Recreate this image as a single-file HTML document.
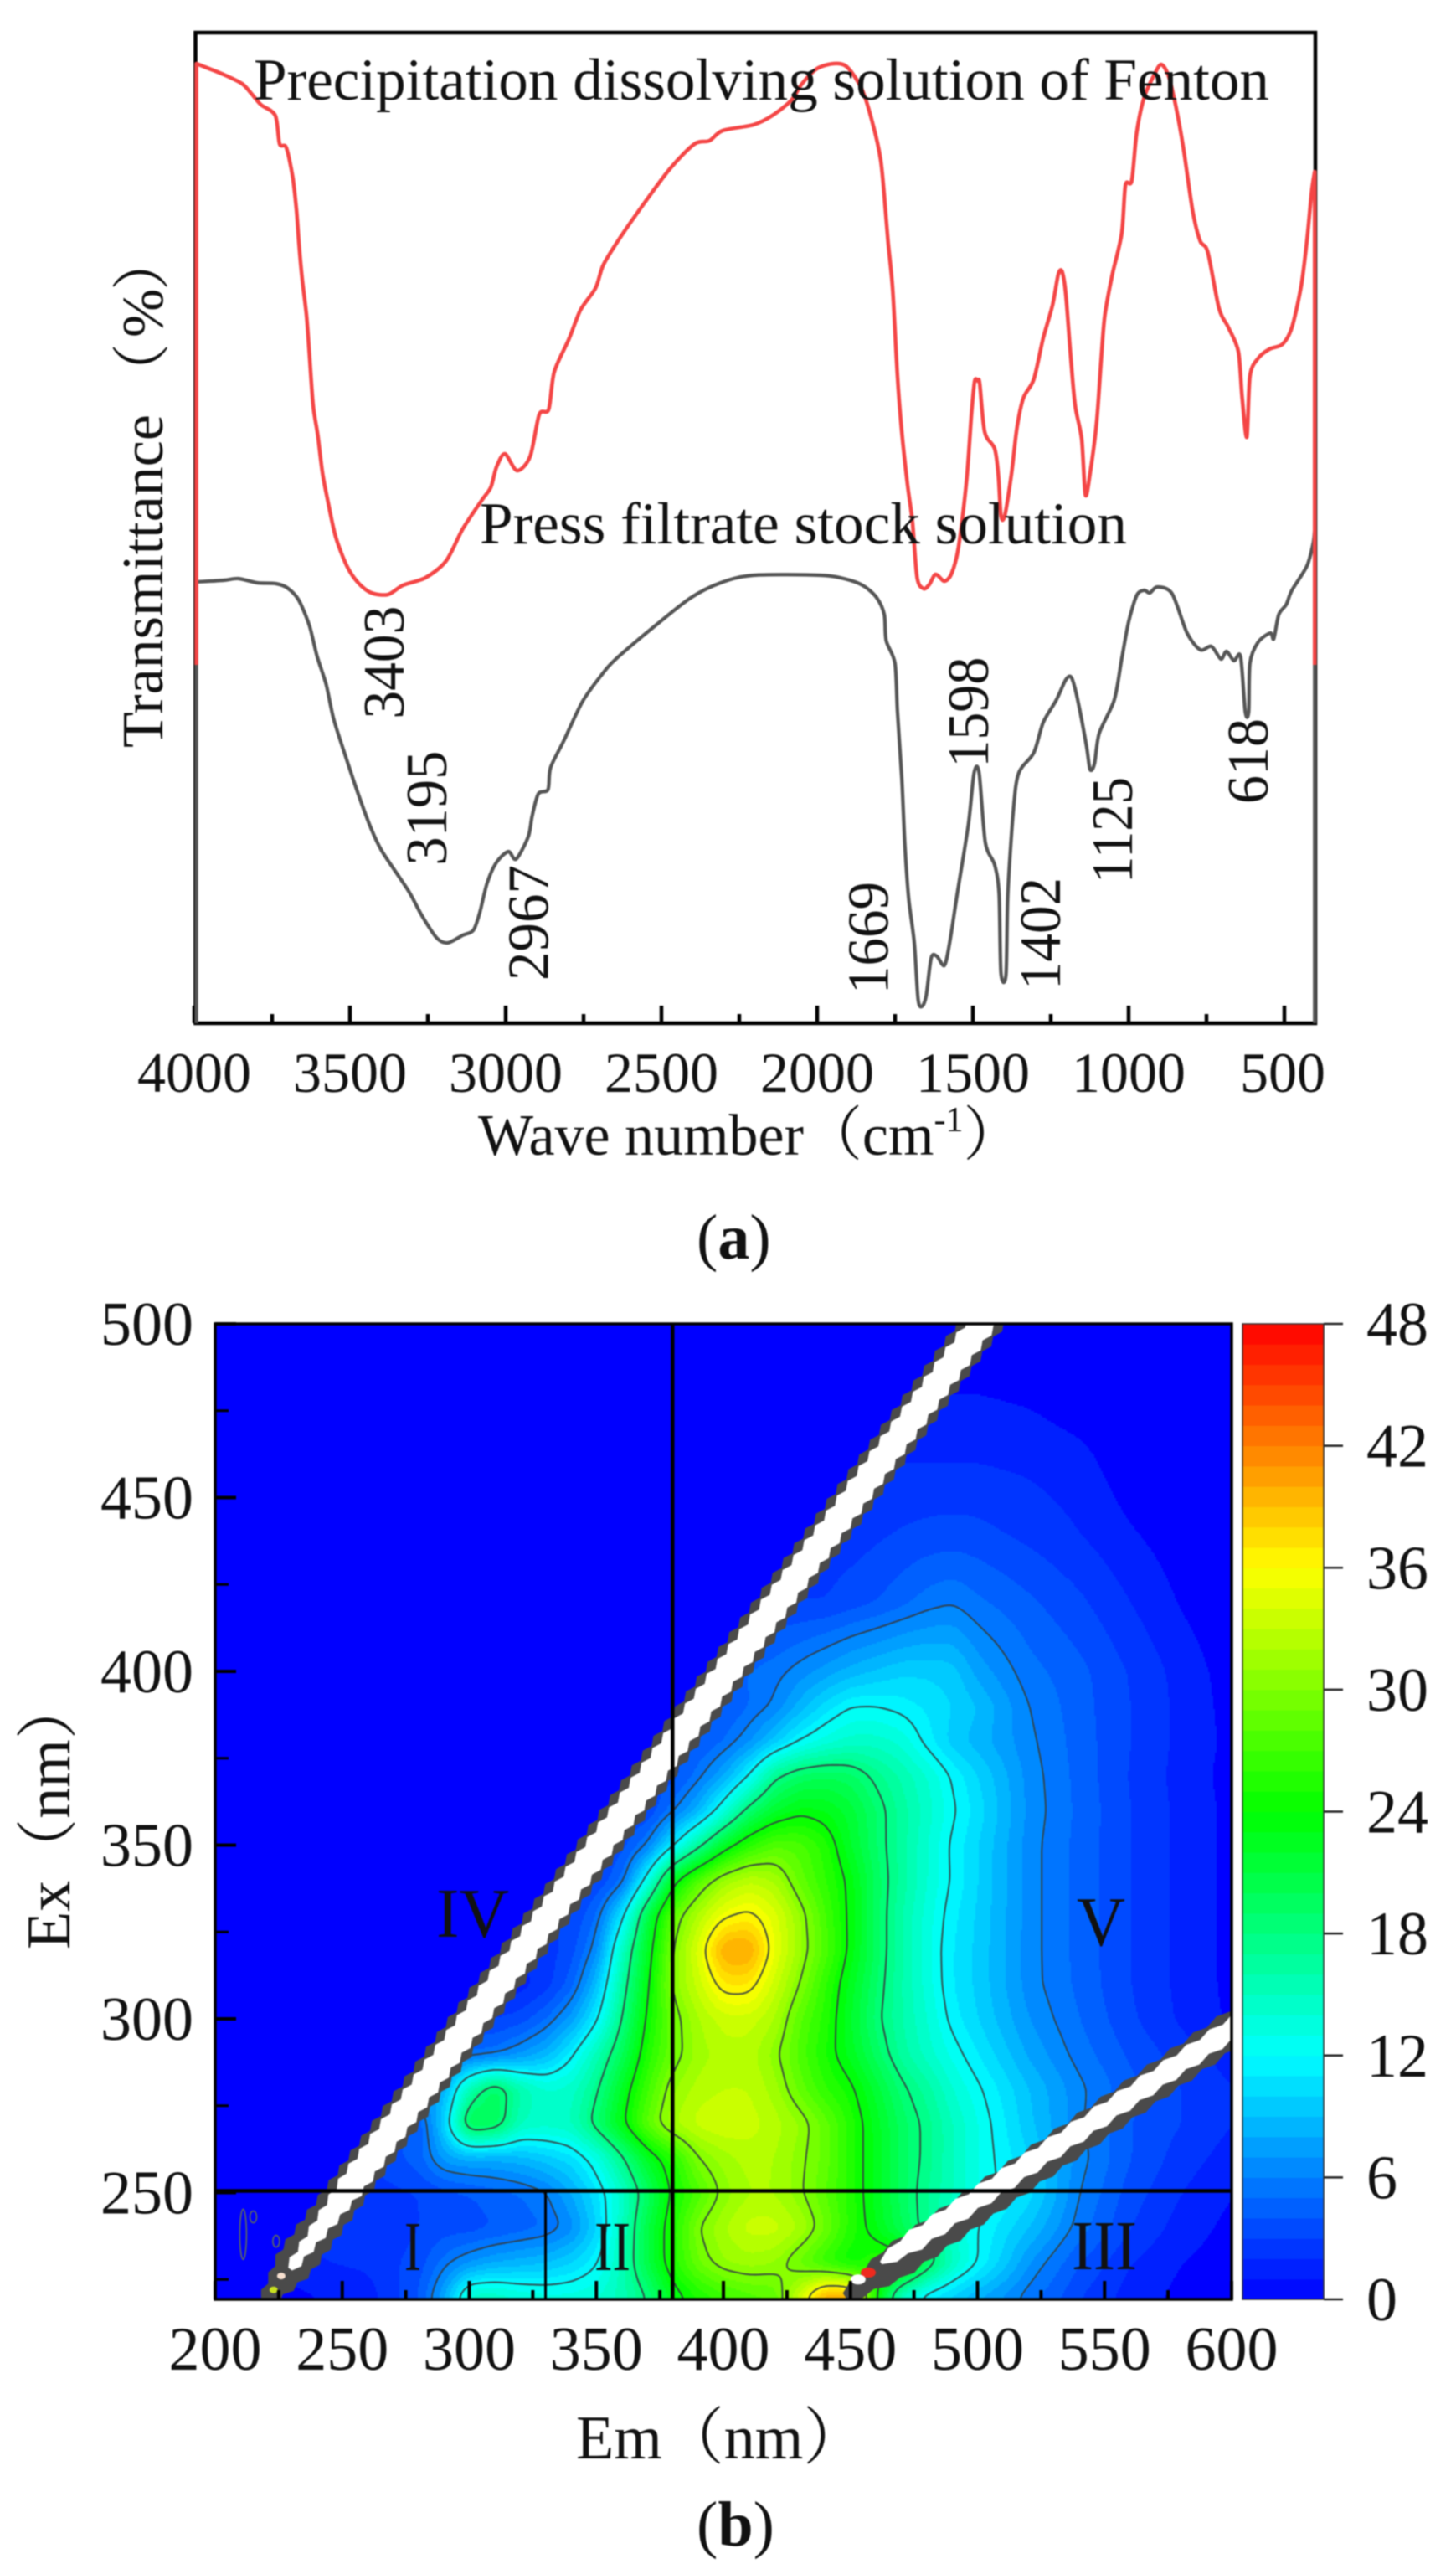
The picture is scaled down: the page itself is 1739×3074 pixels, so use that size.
<!DOCTYPE html>
<html lang="en">
<head>
<meta charset="utf-8">
<title>FTIR spectra and EEM fluorescence map</title>
<style>
html,body{margin:0;padding:0;background:#fff;}
#figure{display:block;filter:blur(0.7px);}
text{font-family:"Liberation Serif","Noto Serif CJK SC",serif;fill:#111;}
</style>
</head>
<body>
<svg id="figure" xmlns="http://www.w3.org/2000/svg" width="1739" height="3074" viewBox="0 0 1739 3074">
  <defs>
    <clipPath id="plot-b-clip"><rect x="257" y="1581" width="1214" height="1165"/></clipPath>
  </defs>
  <rect x="0" y="0" width="1739" height="3074" fill="#fff"/>

  <!-- Panel (a) -->
  <g id="panel-a">
    <rect x="233.5" y="39" width="1337.5" height="1183" fill="none" stroke="#000" stroke-width="4.5"/>
    <g id="a-ticks"></g>
    <g id="a-tick-labels"></g>
    <path id="grey-line" fill="none" stroke="#555" stroke-width="4.2" stroke-linejoin="round"/>
    <path id="red-line" fill="none" stroke="#f44545" stroke-width="4.5" stroke-linejoin="round"/>

    <text x="303" y="119" font-size="71" textLength="1213" lengthAdjust="spacingAndGlyphs">Precipitation dissolving solution of Fenton</text>
    <text x="573" y="649" font-size="71" textLength="773" lengthAdjust="spacingAndGlyphs">Press filtrate stock solution</text>

    <text transform="translate(482,858.6) rotate(-90)" font-size="70" textLength="135" lengthAdjust="spacingAndGlyphs">3403</text>
    <text transform="translate(533,1033.6) rotate(-90)" font-size="70" textLength="137" lengthAdjust="spacingAndGlyphs">3195</text>
    <text transform="translate(654.5,1171) rotate(-90)" font-size="70" textLength="138" lengthAdjust="spacingAndGlyphs">2967</text>
    <text transform="translate(1060.7,1187) rotate(-90)" font-size="70" textLength="134" lengthAdjust="spacingAndGlyphs">1669</text>
    <text transform="translate(1180,916.6) rotate(-90)" font-size="70" textLength="132" lengthAdjust="spacingAndGlyphs">1598</text>
    <text transform="translate(1266,1182) rotate(-90)" font-size="70" textLength="134" lengthAdjust="spacingAndGlyphs">1402</text>
    <text transform="translate(1352,1055) rotate(-90)" font-size="70" textLength="127" lengthAdjust="spacingAndGlyphs">1125</text>
    <text transform="translate(1514,960) rotate(-90)" font-size="70" textLength="102" lengthAdjust="spacingAndGlyphs">618</text>

    <text transform="translate(194,893) rotate(-90)" font-size="70">Transmittance<tspan x="413">（</tspan><tspan x="490">%</tspan><tspan x="546">）</tspan></text>
    <text x="571" y="1379" font-size="70">Wave number（cm<tspan font-size="42" dy="-28">-1</tspan><tspan dy="28">）</tspan></text>
    <text x="832" y="1503" font-size="76">(<tspan font-weight="bold">a</tspan>)</text>
  </g>

  <!-- Panel (b) -->
  <g id="panel-b">
    <rect x="257" y="1581" width="1214" height="1165" fill="#0000ff"/>
    <g clip-path="url(#plot-b-clip)">
      <g id="heat-levels" shape-rendering="crispEdges"></g>
      <path id="contours" fill="none" stroke="#333e42" stroke-opacity="0.85" stroke-width="2.1"/>
      <g id="bands"></g>
      <g id="specks"></g>
    </g>
    <g id="b-ticks"></g>
    <g id="b-dividers"></g>
    <rect x="257" y="1581" width="1214" height="1165" fill="none" stroke="#000" stroke-width="3.5"/>
    <g id="b-tick-labels"></g>
    <g id="colorbar"></g>
    <g id="colorbar-ticks"></g>

    <text x="483" y="2711" font-size="84" textLength="20" lengthAdjust="spacingAndGlyphs">I</text>
    <text x="710" y="2711" font-size="84" textLength="43" lengthAdjust="spacingAndGlyphs">II</text>
    <text x="1280" y="2710" font-size="84" textLength="78" lengthAdjust="spacingAndGlyphs">III</text>
    <text x="521" y="2313" font-size="84" textLength="87" lengthAdjust="spacingAndGlyphs">IV</text>
    <text x="1286" y="2323" font-size="84" textLength="58" lengthAdjust="spacingAndGlyphs">V</text>

    <text transform="translate(83,2328) rotate(-90)" font-size="74">Ex（nm）</text>
    <text x="688" y="2936" font-size="74">Em（nm）</text>
    <text x="832" y="3040" font-size="76">(<tspan font-weight="bold">b</tspan>)</text>
  </g>
</svg>

<script>
/* ---------- Panel (a) data: FTIR spectra ---------- */
const aMajorTicks = [4000, 3500, 3000, 2500, 2000, 1500, 1000, 500];
const aMinorTicks = [3750, 3250, 2750, 2250, 1750, 1250, 750];
const aTickLabels = ['4000', '3500', '3000', '2500', '2000', '1500', '1000', '500'];

const redWave = [3993,3993,3966,3906,3847,3817,3787,3741,3727,3706,3685,3673,3665,3655,3641,3632,3620,3605,3590,3572,3548,3512,3476,3434,3381,3333,3261,3195,3142,3082,3052,3034,3007,2968,2926,2897,2867,2849,2801,2765,2717,2693,2646,2562,2478,2401,2353,2311,2212,2152,2092,2057,2009,1955,1913,1865,1830,1806,1794,1782,1767,1752,1738,1720,1704,1689,1668,1650,1630,1602,1579,1557,1531,1515,1505,1495,1489,1473,1441,1429,1421,1409,1387,1370,1349,1316,1286,1256,1238,1226,1214,1199,1184,1163,1151,1136,1115,1101,1089,1065,1035,1023,1003,987,963,933,909,885,862,838,808,784,760,724,694,662,650,635,625,599,563,521,491,461,443,428,418,418];
const redT = [428,1146,1142,1133,1122,1110,1097,1084,1050,1046,1010,970,930,889,845,800,738,702,657,622,581,546,526,514,512,523,532,552,590,624,640,664,680,660,677,727,733,778,818,852,878,905,934,979,1021,1050,1054,1066,1073,1084,1102,1122,1140,1146,1142,1115,1073,1032,988,934,876,773,706,644,599,532,519,524,536,528,537,568,648,729,767,767,764,706,686,653,606,606,657,711,747,769,818,858,894,898,872,800,738,698,631,657,718,791,845,894,943,1001,1006,1064,1106,1131,1145,1131,1095,1046,970,934,921,854,831,802,747,700,773,794,805,811,831,881,934,992,1017,428];

const greyWave = [3993,3993,3906,3859,3799,3739,3703,3667,3632,3608,3578,3554,3512,3476,3434,3399,3315,3273,3225,3190,3142,3108,3088,3064,3034,2996,2971,2932,2920,2900,2869,2861,2819,2759,2700,2652,2532,2413,2317,2212,1997,1913,1859,1818,1794,1788,1760,1752,1738,1728,1716,1698,1686,1674,1660,1644,1626,1602,1585,1561,1525,1507,1491,1471,1441,1427,1421,1405,1399,1381,1364,1316,1286,1244,1214,1196,1178,1148,1136,1122,1107,1059,1035,1013,987,963,945,921,874,826,784,748,718,700,676,655,640,629,625,599,560,549,533,509,491,443,423,418,418];
const greyT = [0,527,529,531,526,525,520,506,475,439,404,363,314,274,232,205,158,129,102,96,105,111,131,167,192,205,196,223,247,274,279,305,337,384,415,435,473,508,526,535,535,530,522,508,488,457,430,372,292,212,149,96,29,20,33,78,80,69,96,154,238,299,299,216,189,154,60,58,154,256,299,323,359,386,410,413,390,332,303,310,346,386,435,479,511,517,514,521,513,466,446,450,435,444,433,438,372,372,430,455,466,459,488,500,517,546,573,590,0];

/* ---------- Panel (b) data: excitation-emission intensity grid ---------- */
const emAxis = [200,220,240,260,280,290,300,310,320,330,340,350,360,370,380,390,400,410,420,430,440,450,460,470,480,490,500,520,540,560,580,600];
const exAxis = [220,230,240,250,260,270,280,290,300,310,320,330,340,350,360,370,380,390,400,420,440,460,480,500];
const intensity = [
/*220*/[0,0,1,1.5,4,8,15,15,14,13.5,13.5,14,15.5,18,23,25,26.5,27.5,28,34,41,41,24,14,11,9.5,8,5.5,3,1.5,0.7,0.2],
/*230*/[0,2,2,2.2,3.5,5.5,7,8,8.5,9,10,11.7,15.5,21,25.5,29,31,31.5,31,28.5,26,24,26,26,20,15,12,7,4,2,1,0.5],
/*240*/[0,0,2,2,3,3.5,3.5,4,4.5,5,6.5,10,15,21,25.5,30,32,33.5,33.5,32,29,25.5,23,20,17,14,12,9,5.5,3,1.5,0.7],
/*250*/[0,0,2.5,2.5,3,3.5,4,4.5,5,5.8,8,10.7,14.5,19.5,24.5,27.5,30.5,32,32,30.3,28,25.5,22.5,19.5,17,15,13,10.5,6,3.5,2,1],
/*260*/[0,0,0,3,4.5,7.5,8,8,8.5,9.5,10.5,13,17.5,22.5,25.5,30,31.5,32.5,32,30.5,28.5,25.5,22.5,19.5,17.5,15,13,10,6.5,4,2.5,1.5],
/*270*/[0,0,0,4,4,10,21,20,15,14.5,15,19,23.5,28.5,32,33.5,34,33.5,32.5,31,28.5,25.5,22.5,19.5,17.5,15,13,9.3,6.2,4,3,2],
/*280*/[0,0,0,0,8,8,16,20,16,14,14.5,17.5,22.5,27,31,32.5,33,33,31.5,28.5,26,24.5,21.5,18.5,16.5,14,12.3,9,6.3,4.3,3,2],
/*290*/[0,0,0,0,5,5,5,5.5,7,8.5,11.5,15.5,20,25.5,29,31.5,32.5,32.5,30.5,27.5,25,22.5,19.5,16.5,14.5,12.7,11,7.8,5.5,3.8,2.5,1.5],
/*300*/[0,0,0,0,0,3,3,3,3.5,5,7.5,11.5,18,24.5,29,32,33.5,33.5,32,28,25.5,22,18.5,16,14,11.5,10,7,5,3.2,1.8,0.8],
/*310*/[0,0,0,0,0,0,1.5,1.5,1.5,2.5,4.5,9,16.5,23.5,30.5,33.5,37,37,33.5,30,26,22.5,19,16,13.5,11,9.7,6.5,4.7,3,1.7,0.7],
/*320*/[0,0,0,0,0,0,0,2.5,2.5,2.5,3.5,6.5,15,22.5,30,34.5,40.5,40.5,35,31.3,27.5,23.5,19.5,16,13.3,11,9.7,6.5,4.6,3,1.7,0.7],
/*330*/[0,0,0,0,0,0,0,0,3,3,3,5,11,21,28.5,32.5,35.5,36.5,34.5,31,27,23.5,19.5,16,13.5,11.3,9.8,6.5,4.6,3,1.7,0.7],
/*340*/[0,0,0,0,0,0,0,0,0,3,3,3,5,13,23,28,31.5,33,32,28.5,26,23.5,19.5,16.5,14,11.8,10,6.5,4.6,3,1.7,0.7],
/*350*/[0,0,0,0,0,0,0,0,0,0,3.5,3.5,3.5,6,11.5,17,22.5,26,28,27.5,25.5,22,19,16.5,14,11.7,10,6.5,4.6,3,1.7,0.7],
/*360*/[0,0,0,0,0,0,0,0,0,0,0,3,3,3,5.7,8.5,13.5,19,22,23.5,23,21.5,19,16.5,14.5,12.3,10.5,6.7,4.7,3,1.7,0.7],
/*370*/[0,0,0,0,0,0,0,0,0,0,0,0,3.5,3.5,3.5,5.5,8,12,17.5,19.5,20,19.5,17.5,15.8,14,11.8,10,6.6,4.6,2.9,1.6,0.6],
/*380*/[0,0,0,0,0,0,0,0,0,0,0,0,0,4,4,4,5,6.8,9.5,12,13.5,14.5,14.5,13.7,11.5,9.5,8.5,6.3,4.5,3,1.7,0.7],
/*390*/[0,0,0,0,0,0,0,0,0,0,0,0,0,0,4,4,4,5,6.2,8.5,10.5,12,12,11.5,10.8,10,9,6,4.4,3,1.7,0.6],
/*400*/[0,0,0,0,0,0,0,0,0,0,0,0,0,0,0,5,5,5,5.5,6.5,7.5,8.5,9.2,9.8,9.8,9.5,7.6,5.4,4.3,2.9,1.6,0.5],
/*420*/[0,0,0,0,0,0,0,0,0,0,0,0,0,0,0,0,0,3,3,3,3,3.5,4,4.7,5.5,5.9,5.2,4.2,3.2,2,0.9,0.2],
/*440*/[0,0,0,0,0,0,0,0,0,0,0,0,0,0,0,0,0,0,0,2.4,2.5,2.5,2.8,3.1,3.3,3.4,3.3,2.7,2,1.1,0.4,0],
/*460*/[0,0,0,0,0,0,0,0,0,0,0,0,0,0,0,0,0,0,0,0,0,2,2,2,2,2,2,1.8,1.4,0.3,0,0],
/*480*/[0,0,0,0,0,0,0,0,0,0,0,0,0,0,0,0,0,0,0,0,0,0,0,1,1,1,1,0.8,0.3,0,0,0],
/*500*/[0,0,0,0,0,0,0,0,0,0,0,0,0,0,0,0,0,0,0,0,0,0,0,0,0,0,0,0,0,0,0,0]
];
const contourLevels = [6, 12, 18, 24, 30, 36];

const emMajorTicks = [200, 250, 300, 350, 400, 450, 500, 550, 600];
const emMinorTicks = [225, 275, 325, 375, 425, 475, 525, 575];
const exMajorTicks = [500, 450, 400, 350, 300, 250];
const exMinorTicks = [475, 425, 375, 325, 275, 225];
const emTickLabels = ['200', '250', '300', '350', '400', '450', '500', '550', '600'];
const exTickLabels = ['500', '450', '400', '350', '300', '250'];
const colorbarTicks = [0, 6, 12, 18, 24, 30, 36, 42, 48];
const colorbarLabels = ['0', '6', '12', '18', '24', '30', '36', '42', '48'];

/* scatter bands: [start, end] in nm */
const rayleighEm = [219.5, 505];
const rayleighEx = [218, 503.5];
const rayleighCoreEm = [229.5, 505];
const rayleighCoreEx = [228, 503.5];
const secondOrderEm = [448, 612];
const secondOrderEx = [220, 303];
const secondOrderCoreEm = [462, 612];
const secondOrderCoreEx = [229.8, 303];

/* dividing lines of the five regions, in nm */
const dividerEm = 380;
const dividerEx = 250;
const dividerEmLow = 330;

/* small artefacts near the band ends */
const hotEm = [457, 453, 223, 226];
const hotEx = [227, 225, 222, 226];
const hotColor = ['#ee2a1e', '#ffffff', '#c8e020', '#f7e0d0'];
const speckEm = [215, 224, 211];
const speckEx = [243, 236, 238];

/* ---------- helpers ---------- */
const SVGNS = 'http://www.w3.org/2000/svg';
function mk(tag, parent) {
  const el = document.createElementNS(SVGNS, tag);
  parent.appendChild(el);
  return el;
}
function byId(id) { return document.getElementById(id); }

/* ---------- Panel (a) axes ---------- */
const aLeft = 232, aBottom = 1222, aScale = 0.372;
function xA(w) { return aLeft + (4000 - w) * aScale; }
function yA(t) { return aBottom - t; }
/* wavenumber read-off correction for the traced spectra */
function xSpec(w) { return xA(4000 - (4000 - w) * 1.0043); }

/* straight instrument-edge segments at both ends, smooth spline in between */
function linePath(xs, ys) {
  const px = xs.map(xSpec), py = ys.map(yA);
  const n = px.length;
  let d = 'M' + px[0].toFixed(1) + ' ' + py[0].toFixed(1) + 'L' + px[1].toFixed(1) + ' ' + py[1].toFixed(1);
  const k = 1 / 7;
  for (let i = 1; i < n - 2; i++) {
    const a = Math.max(1, i - 1), b = Math.min(n - 2, i + 2);
    const c1x = px[i] + (px[i + 1] - px[a]) * k, c1y = py[i] + (py[i + 1] - py[a]) * k;
    const c2x = px[i + 1] - (px[b] - px[i]) * k, c2y = py[i + 1] - (py[b] - py[i]) * k;
    d += 'C' + c1x.toFixed(1) + ' ' + c1y.toFixed(1) + ' ' + c2x.toFixed(1) + ' ' + c2y.toFixed(1) + ' ' + px[i + 1].toFixed(1) + ' ' + py[i + 1].toFixed(1);
  }
  d += 'L' + px[n - 1].toFixed(1) + ' ' + py[n - 1].toFixed(1);
  return d;
}
byId('red-line').setAttribute('d', linePath(redWave, redT));
byId('grey-line').setAttribute('d', linePath(greyWave, greyT));

aMajorTicks.forEach(function (w, i) {
  const t = mk('line', byId('a-ticks'));
  
  
  t.setAttribute('x1', xA(w)); t.setAttribute('x2', xA(w));
  t.setAttribute('y1', aBottom); t.setAttribute('y2', aBottom - 21);
  t.setAttribute('stroke', '#000'); t.setAttribute('stroke-width', '4.5');

  const lab = mk('text', byId('a-tick-labels'));
  
  
  lab.setAttribute('x', xA(w) - (w === 500 ? 2 : 0));
  lab.setAttribute('y', 1304);
  lab.setAttribute('text-anchor', 'middle');
  lab.setAttribute('font-size', '68');
  lab.setAttribute('fill', '#222');
  lab.textContent = aTickLabels[i];
});
aMinorTicks.forEach(function (w) {
  const t = mk('line', byId('a-ticks'));
  
  
  t.setAttribute('x1', xA(w)); t.setAttribute('x2', xA(w));
  t.setAttribute('y1', aBottom); t.setAttribute('y2', aBottom - 11);
  t.setAttribute('stroke', '#000'); t.setAttribute('stroke-width', '4.5');
});

/* ---------- Panel (b) axes ---------- */
const bLeft = 257, bTop = 1581, bRight = 1471, bBottom = 2746;
const emScale = 3.035, exScale = 4.15;
function xB(em) { return bLeft + (em - 200) * emScale; }
function yB(ex) { return bTop + (500 - ex) * exScale; }
function emOf(px) { return 200 + (px - bLeft) / emScale; }
function exOf(py) { return 500 - (py - bTop) / exScale; }

function colorOf(v) {
  const c = Math.max(0, Math.min(48, v));
  let r, g, b;
  if (c < 12) { r = 0; g = 255 * c / 12; b = 255; }
  else if (c < 24) { r = 0; g = 255; b = 255 * (24 - c) / 12; }
  else if (c < 36) { r = 255 * (c - 24) / 12; g = 255; b = 0; }
  else { r = 255; g = 255 * (48 - c) / 12; b = 0; }
  return 'rgb(' + Math.round(r) + ',' + Math.round(g) + ',' + Math.round(b) + ')';
}

function locate(axis, v) {
  let i = 0;
  while (i < axis.length - 2 && v > axis[i + 1]) i++;
  const f = (v - axis[i]) / (axis[i + 1] - axis[i]);
  return [i, Math.max(0, Math.min(1, f))];
}
function sampleGrid(em, ex) {
  const a = locate(emAxis, em), b = locate(exAxis, ex);
  const r0 = intensity[b[0]], r1 = intensity[b[0] + 1];
  const v0 = r0[a[0]] * (1 - a[1]) + r0[a[0] + 1] * a[1];
  const v1 = r1[a[0]] * (1 - a[1]) + r1[a[0] + 1] * a[1];
  return v0 * (1 - b[1]) + v1 * b[1];
}

/* fine field on a 2 px lattice */
const cell = 2;
const nx = Math.floor((bRight - bLeft) / cell) + 1;
const ny = Math.floor((bBottom - bTop) / cell) + 1;
let field = new Float32Array(nx * ny);
for (let j = 0; j < ny; j++) {
  const ex = exOf(bTop + j * cell);
  for (let i = 0; i < nx; i++) {
    field[j * nx + i] = sampleGrid(emOf(bLeft + i * cell), ex);
  }
}
function boxBlur(src, radius) {
  const tmp = new Float32Array(nx * ny), out = new Float32Array(nx * ny);
  const n = 2 * radius + 1;
  for (let j = 0; j < ny; j++) {
    let s = 0;
    for (let k = -radius; k <= radius; k++) s += src[j * nx + Math.max(0, Math.min(nx - 1, k))];
    for (let i = 0; i < nx; i++) {
      tmp[j * nx + i] = s / n;
      s += src[j * nx + Math.min(nx - 1, i + radius + 1)] - src[j * nx + Math.max(0, i - radius)];
    }
  }
  for (let i = 0; i < nx; i++) {
    let s = 0;
    for (let k = -radius; k <= radius; k++) s += tmp[Math.max(0, Math.min(ny - 1, k)) * nx + i];
    for (let j = 0; j < ny; j++) {
      out[j * nx + i] = s / n;
      s += tmp[Math.min(ny - 1, j + radius + 1) * nx + i] - tmp[Math.max(0, j - radius) * nx + i];
    }
  }
  return out;
}
field = boxBlur(boxBlur(boxBlur(field, 3), 3), 3);
/* nothing is measured on the short-wavelength side of the Rayleigh line */
for (let j = 0; j < ny; j++) {
  const ex = exOf(bTop + j * cell);
  for (let i = 0; i < nx; i++) {
    if (emOf(bLeft + i * cell) < ex + 1.5) field[j * nx + i] = 0;
  }
}

/* one filled path per colour level, built from runs of equal level */
const levelPaths = {};
for (let j = 0; j < ny; j++) {
  let i = 0;
  const y = bTop + j * cell;
  while (i < nx) {
    const lev = Math.min(47, Math.floor(field[j * nx + i]));
    let k = i + 1;
    while (k < nx && Math.min(47, Math.floor(field[j * nx + k])) === lev) k++;
    if (lev > 0) {
      levelPaths[lev] = (levelPaths[lev] || '') + 'M' + (bLeft + i * cell) + ' ' + y + 'h' + ((k - i) * cell) + 'v' + cell + 'h' + (-(k - i) * cell) + 'z';
    }
    i = k;
  }
}
Object.keys(levelPaths).forEach(function (lev) {
  const p = mk('path', byId('heat-levels'));
  
  
  p.setAttribute('d', levelPaths[lev]);
  p.setAttribute('fill', colorOf(+lev + 0.5));
});

/* contour lines by marching squares */
function contourPath(level) {
  let d = '';
  function cross(a, b) { return (level - a) / (b - a); }
  for (let j = 0; j < ny - 1; j++) {
    for (let i = 0; i < nx - 1; i++) {
      const a = field[j * nx + i], b = field[j * nx + i + 1];
      const c = field[(j + 1) * nx + i + 1], e = field[(j + 1) * nx + i];
      const code = (a >= level ? 8 : 0) | (b >= level ? 4 : 0) | (c >= level ? 2 : 0) | (e >= level ? 1 : 0);
      if (code === 0 || code === 15) continue;
      /* skip the artificial cliff along the mask line */
      if (Math.max(a, b, c, e) - Math.min(a, b, c, e) > 4) continue;
      const x0 = bLeft + i * cell, y0 = bTop + j * cell;
      const pts = [];
      if ((a >= level) !== (b >= level)) pts.push([x0 + cell * cross(a, b), y0]);
      if ((b >= level) !== (c >= level)) pts.push([x0 + cell, y0 + cell * cross(b, c)]);
      if ((e >= level) !== (c >= level)) pts.push([x0 + cell * cross(e, c), y0 + cell]);
      if ((a >= level) !== (e >= level)) pts.push([x0, y0 + cell * cross(a, e)]);
      for (let k = 0; k + 1 < pts.length; k += 2) {
        d += 'M' + pts[k][0].toFixed(1) + ' ' + pts[k][1].toFixed(1) + 'L' + pts[k + 1][0].toFixed(1) + ' ' + pts[k + 1][1].toFixed(1);
      }
    }
  }
  return d;
}
byId('contours').setAttribute('d', contourLevels.map(contourPath).join(''));

/* serrated scatter bands */
function bandPoints(ems, exs, half, amp, period, taper) {
  const x0 = xB(ems[0]), y0 = yB(exs[0]), x1 = xB(ems[1]), y1 = yB(exs[1]);
  const L = Math.hypot(x1 - x0, y1 - y0);
  const ux = (x1 - x0) / L, uy = (y1 - y0) / L;
  const nxv = -uy, nyv = ux;
  const steps = Math.ceil(L / (period / 2));
  const upper = [], lower = [];
  for (let i = 0; i <= steps; i++) {
    const s = L * i / steps;
    const scale = taper > 0 ? Math.min(1, 0.35 + 0.65 * s / taper) : 1;
    const off = (i % 2 ? amp : -amp);
    const w = half * scale;
    const cx = x0 + ux * s, cy = y0 + uy * s;
    upper.push((cx + nxv * (w + off)).toFixed(1) + ',' + (cy + nyv * (w + off)).toFixed(1));
    lower.unshift((cx - nxv * (w + off)).toFixed(1) + ',' + (cy - nyv * (w + off)).toFixed(1));
  }
  return upper.concat(lower).join(' ');
}

const rayleighOuter = mk('polygon', byId('bands'));


rayleighOuter.setAttribute('points', bandPoints(rayleighEm, rayleighEx, 23, 2.6, 22, 60));
rayleighOuter.setAttribute('fill', '#4a4a4a');

const rayleighCore = mk('polygon', byId('bands'));


rayleighCore.setAttribute('points', bandPoints(rayleighCoreEm, rayleighCoreEx, 15.5, 2.6, 22, 130));
rayleighCore.setAttribute('fill', '#ffffff');

const secondOuter = mk('polygon', byId('bands'));


secondOuter.setAttribute('points', bandPoints(secondOrderEm, secondOrderEx, 21, 2.2, 34, 70));
secondOuter.setAttribute('fill', '#4a4a4a');

const secondCore = mk('polygon', byId('bands'));


secondCore.setAttribute('points', bandPoints(secondOrderCoreEm, secondOrderCoreEx, 12, 2.2, 34, 40));
secondCore.setAttribute('fill', '#ffffff');

hotEm.forEach(function (em, i) {
  const h = mk('ellipse', byId('specks'));
  
  
  h.setAttribute('cx', xB(em)); h.setAttribute('cy', yB(hotEx[i]));
  h.setAttribute('rx', i < 2 ? 9 : 5); h.setAttribute('ry', i < 2 ? 6 : 4);
  h.setAttribute('fill', hotColor[i]);
});
speckEm.forEach(function (em, i) {
  const s = mk('ellipse', byId('specks'));
  
  
  s.setAttribute('cx', xB(em)); s.setAttribute('cy', yB(speckEx[i]));
  s.setAttribute('rx', 4); s.setAttribute('ry', i === 2 ? 30 : 7);
  s.setAttribute('fill', 'none'); s.setAttribute('stroke', '#5d6a60'); s.setAttribute('stroke-width', '1.6');
});

/* ticks of the heat map */
function tickLine(parent, x1, y1, x2, y2, w) {
  const t = mk('line', parent);
  t.setAttribute('x1', x1); t.setAttribute('y1', y1);
  t.setAttribute('x2', x2); t.setAttribute('y2', y2);
  t.setAttribute('stroke', '#000'); t.setAttribute('stroke-width', w);
  return t;
}
emMajorTicks.forEach(function (em, i) {
  const t = tickLine(byId('b-ticks'), xB(em), bBottom, xB(em), bBottom - 22, 4);
  
  
  const lab = mk('text', byId('b-tick-labels'));
  
  
  lab.setAttribute('x', xB(em)); lab.setAttribute('y', 2830);
  lab.setAttribute('text-anchor', 'middle'); lab.setAttribute('font-size', '74');
  lab.textContent = emTickLabels[i];
});
emMinorTicks.forEach(function (em) {
  const t = tickLine(byId('b-ticks'), xB(em), bBottom, xB(em), bBottom - 11, 4);
  
  
});
exMajorTicks.forEach(function (ex, i) {
  const t = tickLine(byId('b-ticks'), bLeft, yB(ex), bLeft + 25, yB(ex), 4);
  
  
  const lab = mk('text', byId('b-tick-labels'));
  
  
  lab.setAttribute('x', 231); lab.setAttribute('y', yB(ex) + 25);
  lab.setAttribute('text-anchor', 'end'); lab.setAttribute('font-size', '74');
  lab.textContent = exTickLabels[i];
});
exMinorTicks.forEach(function (ex) {
  const t = tickLine(byId('b-ticks'), bLeft, yB(ex), bLeft + 16, yB(ex), 3);
  
  
});

/* region dividers */
const dv1 = tickLine(byId('b-dividers'), xB(dividerEm), bTop, xB(dividerEm), bBottom, 4.5);


const dv2 = tickLine(byId('b-dividers'), bLeft, yB(dividerEx) - 2, bRight, yB(dividerEx) - 2, 4.5);


const dv3 = tickLine(byId('b-dividers'), xB(dividerEmLow), yB(dividerEx) - 2, xB(dividerEmLow), bBottom, 3);



/* colour bar */
const cbLeft = 1484, cbRight = 1581, cbEnd = 1604;
function yCb(v) { return bBottom - (v / 48) * (bBottom - bTop); }
for (let v = 0; v < 48; v++) {
  const r = mk('rect', byId('colorbar'));
  
  
  r.setAttribute('x', cbLeft); r.setAttribute('y', yCb(v + 1));
  r.setAttribute('width', cbRight - cbLeft);
  r.setAttribute('height', yCb(v) - yCb(v + 1) + 0.5);
  r.setAttribute('fill', colorOf(v + 0.5));
}
const cbFrame = mk('rect', byId('colorbar'));


cbFrame.setAttribute('x', cbLeft); cbFrame.setAttribute('y', bTop);
cbFrame.setAttribute('width', cbRight - cbLeft); cbFrame.setAttribute('height', bBottom - bTop);
cbFrame.setAttribute('fill', 'none'); cbFrame.setAttribute('stroke', '#333'); cbFrame.setAttribute('stroke-width', '1.5');

colorbarTicks.forEach(function (v, i) {
  const t = tickLine(byId('colorbar-ticks'), cbRight, yCb(v), cbEnd, yCb(v), 2.6);
  
  
  t.setAttribute('stroke', '#222');
  const lab = mk('text', byId('colorbar-ticks'));
  
  
  lab.setAttribute('x', 1632); lab.setAttribute('y', yCb(v) + 25);
  lab.setAttribute('font-size', '74');
  lab.textContent = colorbarLabels[i];
});
</script>
</body>
</html>
